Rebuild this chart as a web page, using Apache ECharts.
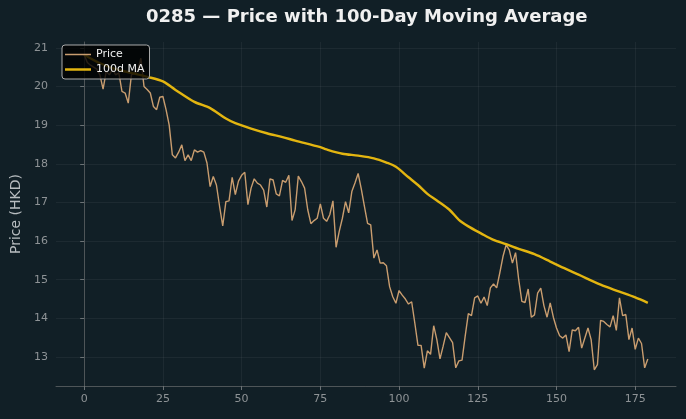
<!DOCTYPE html>
<html>
<head>
<meta charset="utf-8">
<script src="https://cdn.jsdelivr.net/npm/echarts@6.0.0/dist/echarts.min.js"></script>
<style>
  html, body { margin: 0; padding: 0; background: #111f26; }
  #chart { width: 686px; height: 419px; }
</style>
</head>
<body>
<div id="chart"></div>
<script>
// daily closing price, index 0..179
var price = [
  20.82, 20.62, 20.55, 20.50, 20.45, 20.30, 19.93, 20.39, 20.30, 20.45,
  20.30, 20.35, 19.87, 19.83, 19.57, 20.30, 20.35, 20.40, 20.73, 20.00,
  19.92, 19.83, 19.48, 19.40, 19.72, 19.74, 19.40, 19.00, 18.23, 18.15,
  18.30, 18.49, 18.08, 18.23, 18.08, 18.36, 18.30, 18.34, 18.30, 18.02,
  17.41, 17.67, 17.45, 16.90, 16.39, 17.02, 17.04, 17.65, 17.20, 17.55,
  17.70, 17.78, 16.94, 17.37, 17.61, 17.50, 17.45, 17.32, 16.88, 17.61,
  17.58, 17.22, 17.17, 17.57, 17.52, 17.70, 16.53, 16.81, 17.68, 17.54,
  17.37, 16.81, 16.45, 16.53, 16.59, 16.96, 16.59, 16.51, 16.68, 17.04,
  15.84, 16.25, 16.59, 17.02, 16.73, 17.28, 17.50, 17.75, 17.35, 16.90,
  16.46, 16.42, 15.56, 15.77, 15.43, 15.44, 15.36, 14.82, 14.56, 14.39,
  14.72, 14.60, 14.50, 14.37, 14.43, 13.88, 13.30, 13.30, 12.71, 13.16,
  13.07, 13.81, 13.45, 12.95, 13.28, 13.63, 13.50, 13.37, 12.72, 12.90,
  12.92, 13.54, 14.12, 14.07, 14.53, 14.58, 14.39, 14.55, 14.33, 14.79,
  14.89, 14.79, 15.18, 15.60, 15.90, 15.77, 15.43, 15.70, 15.00, 14.44,
  14.41, 14.76, 14.03, 14.09, 14.65, 14.78, 14.33, 14.03, 14.40, 14.03,
  13.75, 13.55, 13.49, 13.57, 13.14, 13.70, 13.68, 13.77, 13.23, 13.49,
  13.75, 13.45, 12.67, 12.80, 13.95, 13.92, 13.84, 13.78, 14.07, 13.69,
  14.53, 14.07, 14.10, 13.45, 13.75, 13.20, 13.49, 13.35, 12.72, 12.95
];

// 100-day moving average, read at these days
var maDays = [0, 5, 10, 15, 20, 25, 29, 35, 40, 45, 48, 53, 58, 63, 67, 75, 77, 82, 87, 92,
  96, 99, 103, 106, 109, 112, 116, 119, 122, 126, 130, 134, 138, 143, 148, 151, 157, 164, 170, 175, 179];
var maValues = [20.82, 20.60, 20.45, 20.35, 20.25, 20.13, 19.91, 19.60, 19.44, 19.17, 19.05, 18.91, 18.79, 18.69, 18.60, 18.43, 18.37, 18.26, 18.21, 18.14,
  18.03, 17.92, 17.65, 17.45, 17.22, 17.05, 16.81, 16.55, 16.38, 16.20, 16.03, 15.92, 15.80, 15.66, 15.47, 15.35, 15.13, 14.87, 14.69, 14.54, 14.40];

var xTicks = [0, 25, 50, 75, 100, 125, 150, 175];
var yTicks = [13, 14, 15, 16, 17, 18, 19, 20, 21];

var priceData = price.map(function (v, i) { return [i, v]; });
var maData = maDays.map(function (d, k) { return [d, maValues[k]]; });

var chart = echarts.init(document.getElementById('chart'), null, { renderer: 'canvas' });

var gridLine = { show: true, lineStyle: { color: 'rgba(255,255,255,0.05)', width: 1 } };

chart.setOption({
  backgroundColor: '#111f26',
  animation: false,
  textStyle: { fontFamily: 'DejaVu Sans' },
  title: {
    text: '0285 \u2014 Price with 100-Day Moving Average',
    left: 146,
    top: 8,
    padding: 0,
    textStyle: { color: '#f0f0f0', fontSize: 18, fontWeight: 'bold', fontFamily: 'DejaVu Sans' }
  },
  legend: {
    orient: 'vertical',
    left: 62,
    top: 45,
    itemWidth: 26,
    itemHeight: 10,
    itemGap: 4,
    padding: [4, 5, 4, 3],
    backgroundColor: 'rgba(0,0,0,0.8)',
    borderColor: '#aaaaaa',
    borderWidth: 1,
    borderRadius: 3,
    symbolKeepAspect: true,
    textStyle: { color: '#eeeeee', fontSize: 11, fontFamily: 'DejaVu Sans' },
    data: [
      { name: 'Price', icon: 'path://M0,0h26v1.5h-26z' },
      { name: '100d MA', icon: 'path://M0,0h26v2.5h-26z' }
    ]
  },
  grid: { left: 56, right: 10, top: 42, bottom: 33, containLabel: false, outerBoundsMode: 'none' },
  xAxis: {
    type: 'value',
    min: -8.95,
    max: 187.95,
    axisLine: { show: true, onZero: false, lineStyle: { color: '#4e5558', width: 1 } },
    axisTick: { show: true, length: 4, customValues: xTicks, lineStyle: { color: '#6b7275' } },
    axisLabel: { customValues: xTicks, color: '#8e9396', fontSize: 11, margin: 8 },
    splitLine: Object.assign({ customValues: xTicks }, gridLine)
  },
  yAxis: {
    type: 'value',
    min: 12.25,
    max: 21.15,
    name: 'Price (HKD)',
    nameLocation: 'middle',
    nameGap: 32,
    nameTextStyle: { color: '#b8bdc0', fontSize: 14 },
    axisLine: { show: true, lineStyle: { color: '#4e5558', width: 1 } },
    axisTick: { show: true, length: 4, customValues: yTicks, lineStyle: { color: '#6b7275' } },
    axisLabel: { customValues: yTicks, color: '#8e9396', fontSize: 11, margin: 8 },
    splitLine: Object.assign({ customValues: yTicks }, gridLine)
  },
  series: [
    {
      name: 'Price',
      type: 'line',
      data: priceData,
      showSymbol: false,
      symbol: 'none',
      lineStyle: { color: '#c99d6f', width: 1.4 },
      itemStyle: { color: '#c99d6f' },
      z: 2
    },
    {
      name: '100d MA',
      type: 'line',
      data: maData,
      showSymbol: false,
      symbol: 'none',
      smooth: 0.3,
      lineStyle: { color: '#e3b510', width: 2.4 },
      itemStyle: { color: '#e3b510' },
      z: 3
    }
  ]
});
</script>
</body>
</html>
